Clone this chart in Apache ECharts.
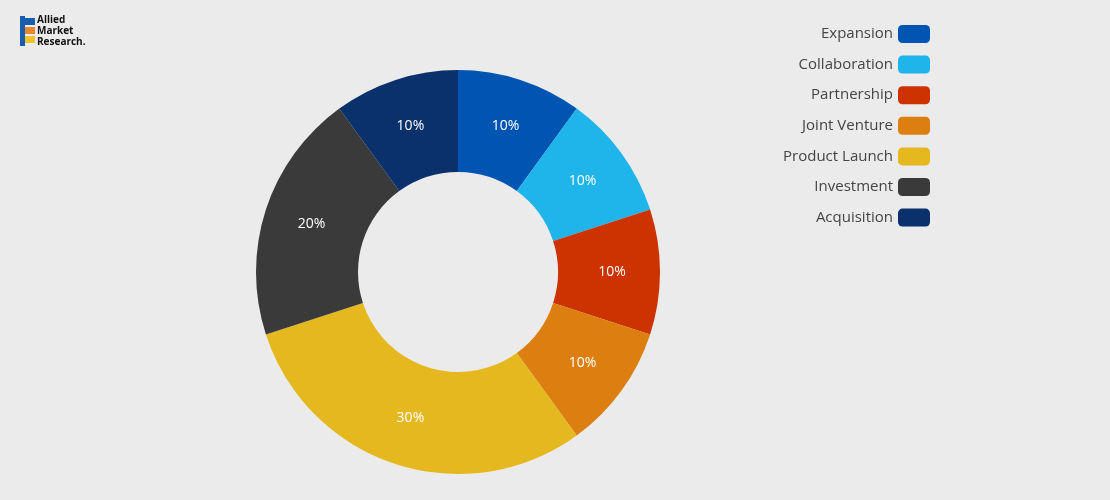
<!DOCTYPE html>
<html><head><meta charset="utf-8">
<script src="https://cdn.jsdelivr.net/npm/echarts@6/dist/echarts.min.js"></script>
<style>html,body{margin:0;padding:0;background:#ebebeb}#c{width:1110px;height:500px}</style>
</head><body><div id="c"></div>
<script>
const categories=['Expansion','Collaboration','Partnership','Joint Venture','Product Launch','Investment','Acquisition'];
const values=[10,10,10,10,30,20,10];
const colors=['#0055b3','#1fb5ea','#cc3300','#dd7f10','#e5b820','#3a3a3a','#0a316b'];
const chart=echarts.init(document.getElementById('c'));
chart.setOption({
  backgroundColor:'#ebebeb',
  color:colors,
  legend:{orient:'vertical',right:175,top:20,align:'right',itemWidth:32,itemHeight:18,itemGap:12.6,
    icon:'roundRect',textStyle:{fontFamily:'Open Sans',fontSize:15,color:'#444'},data:categories},
  graphic:[
    {type:'rect',left:20,top:16,shape:{width:5,height:30},style:{fill:'#1a5db0'}},
    {type:'rect',left:25,top:18,shape:{width:10,height:7},style:{fill:'#1a5db0'}},
    {type:'rect',left:25,top:27,shape:{width:10,height:7},style:{fill:'#e7892a'}},
    {type:'rect',left:25,top:36,shape:{width:10,height:7},style:{fill:'#f2c22b'}},
    {type:'text',left:37,top:15,style:{text:'Allied\nMarket\nResearch.',fontSize:10,fontWeight:'bold',lineHeight:11,fill:'#111',fontFamily:'Open Sans'}}
  ],
  series:[{type:'pie',center:[458,272],radius:[100,202],startAngle:90,clockwise:true,
    label:{position:'inside',formatter:'{c}%',color:'#fff',fontSize:14,fontFamily:'Open Sans'},
    labelLine:{show:false},emphasis:{disabled:true},
    data:categories.map((n,i)=>({name:n,value:values[i]}))}]
});
</script></body></html>
